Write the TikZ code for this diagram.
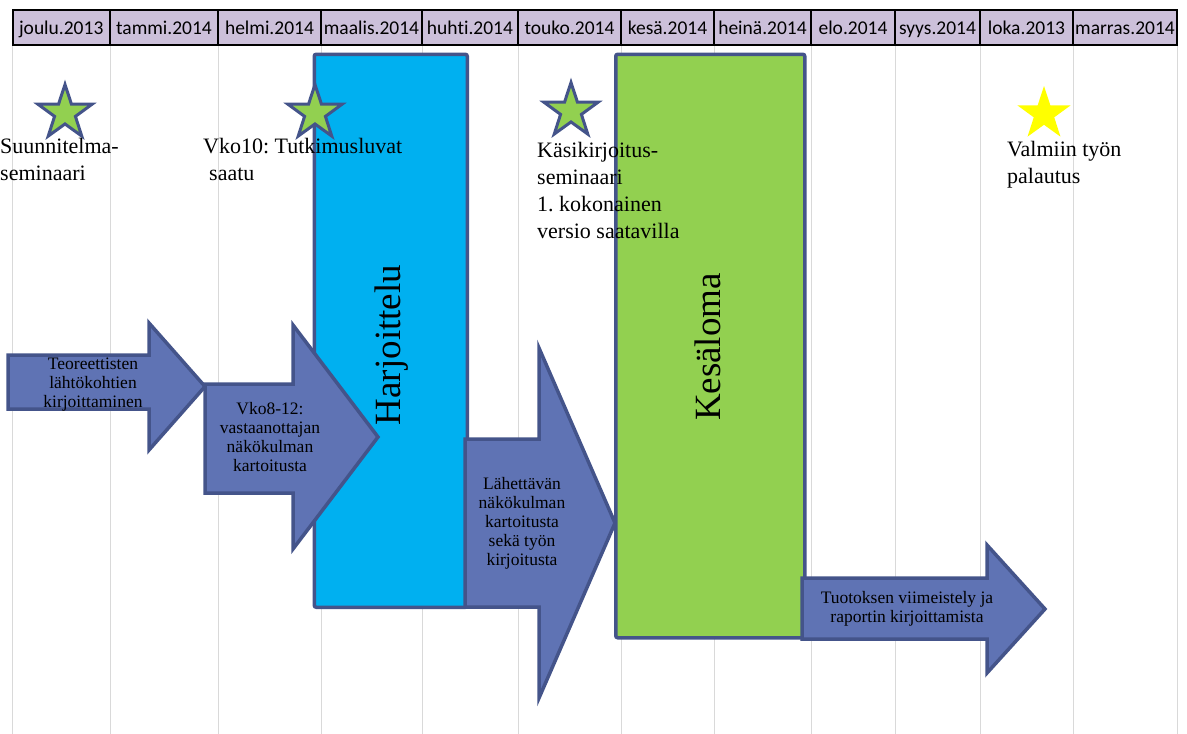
\documentclass[tikz,border=0pt]{standalone}
\usepackage{fontspec}
\setmainfont{Liberation Serif}
\newfontfamily\hdrfont[Ligatures={NoCommon}]{Carlito}
\usetikzlibrary{shapes.geometric}
\frenchspacing
\definecolor{edgec}{HTML}{44548A}
\definecolor{arrfill}{HTML}{5F73B4}
\definecolor{cyanbox}{HTML}{00B0F0}
\definecolor{greenbox}{HTML}{92D050}
\definecolor{hdrfill}{HTML}{CCC0DA}
\definecolor{gridc}{HTML}{D9D9D9}
\definecolor{starY}{HTML}{FFFF00}
\newcommand\fatarrow[7]{%
  \draw[arrowshape] (#1,#2) -- (#4,#2) -- (#4,#5) -- (#7,{(#5+#6)/2}) -- (#4,#6) -- (#4,#3) -- (#1,#3) -- cycle;}
\tikzset{
  arrowshape/.style={draw=edgec, fill=arrfill, line width=3.5pt, line join=miter},
  bigbox/.style={draw=edgec, line width=3.5pt, rounded corners=2pt, anchor=north west, inner sep=0pt},
  bigtext/.style={rotate=90, font=\fontsize{37}{40}\selectfont, inner sep=0pt},
  arrtext/.style={align=center, font=\fontsize{17.5}{19}\selectfont, inner sep=0pt},
  label/.style={align=left, anchor=north west, font=\fontsize{22}{27}\selectfont, inner sep=0pt},
  milestone/.style={star, star points=5, star point ratio=2.6, minimum size=57pt, inner sep=0pt, draw=edgec, fill=greenbox, line width=3pt},
  goalstar/.style={star, star points=5, star point ratio=2.6, minimum size=56pt, inner sep=0pt, fill=starY},
  hdrtext/.style={font=\hdrfont\fontsize{19.5}{22}\selectfont, inner sep=0pt, anchor=base},
  gridline/.style={draw=gridc, line width=1pt}
}
\begin{document}
\begin{tikzpicture}[x=1pt,y=-1pt]
\useasboundingbox (0,0) rectangle (1187,734);
% grid lines
\foreach \x in {12.5,110,218,321,422,518,621,714,811,895,980,1073,1177}
  \draw[gridline] (\x,45) -- (\x,734);
% header
\foreach \a/\b/\t [count=\i] in {12.5/110/joulu.2013,110/218/tammi.2014,218/321/helmi.2014,321/422/maalis.2014,422/518/huhti.2014,518/621/touko.2014,621/714/kesä.2014,714/811/heinä.2014,811/895/elo.2014,895/980/syys.2014,980/1073/loka.2013,1073/1177/marras.2014}{
  \draw[fill=hdrfill, line width=2pt] (\a,9.5) rectangle (\b,45);
  \node[hdrtext] (h\i) at ({(\a+\b)/2},34) {\t};
}
% arrow 1
\fatarrow{8}{355}{409}{149}{323}{450}{205}
\node[arrtext] (a1) at (93,385) {Teoreettisten\\lähtökohtien\\kirjoittaminen};
% Harjoittelu box
\node[bigbox, fill=cyanbox, minimum width=153pt, minimum height=553pt] (harj) at (312.5,52.5) {};
% arrow 2
\fatarrow{205}{384}{493}{293}{325}{549}{378}
\node[arrtext] (a2) at (270,437) {Vko8-12:\\vastaanottajan\\näkökulman\\kartoitusta};
\node[bigtext] (harjtext) at (392,345) {Harjoittelu};
% arrow 3
\fatarrow{465}{439}{607}{539}{348}{698}{615}
\node[arrtext] (a3) at (522,523) {Lähettävän\\näkökulman\\kartoitusta\\sekä työn\\kirjoitusta};
% Kesaloma box
\node[bigbox, fill=greenbox, minimum width=189pt, minimum height=583.5pt] (kesa) at (614,52.5) {};
\node[bigtext] (kesatext) at (708,347) {Kesäloma};
% arrow 4
\fatarrow{802}{578}{639}{987}{545}{673}{1045}
\node[arrtext] (a4) at (907,609) {Tuotoksen viimeistely ja\\raportin kirjoittamista};
% stars
\node[milestone] (s1) at (65,113) {};
\node[milestone] (s2) at (315,113) {};
\node[milestone] (s3) at (571,111) {};
\node[goalstar] (s4) at (1044,114) {};
% labels
\node[label] (l1) at (0,138) {Suunnitelma-\\seminaari};
\node[label] (l2) at (203,138) {Vko10: Tutkimusluvat\\\hspace*{6pt}saatu};
\node[label] (l3) at (537,142) {Käsikirjoitus-\\seminaari\\1. kokonainen\\versio saatavilla};
\node[label] (l4) at (1007,141) {Valmiin työn\\palautus};
\end{tikzpicture}
\end{document}
